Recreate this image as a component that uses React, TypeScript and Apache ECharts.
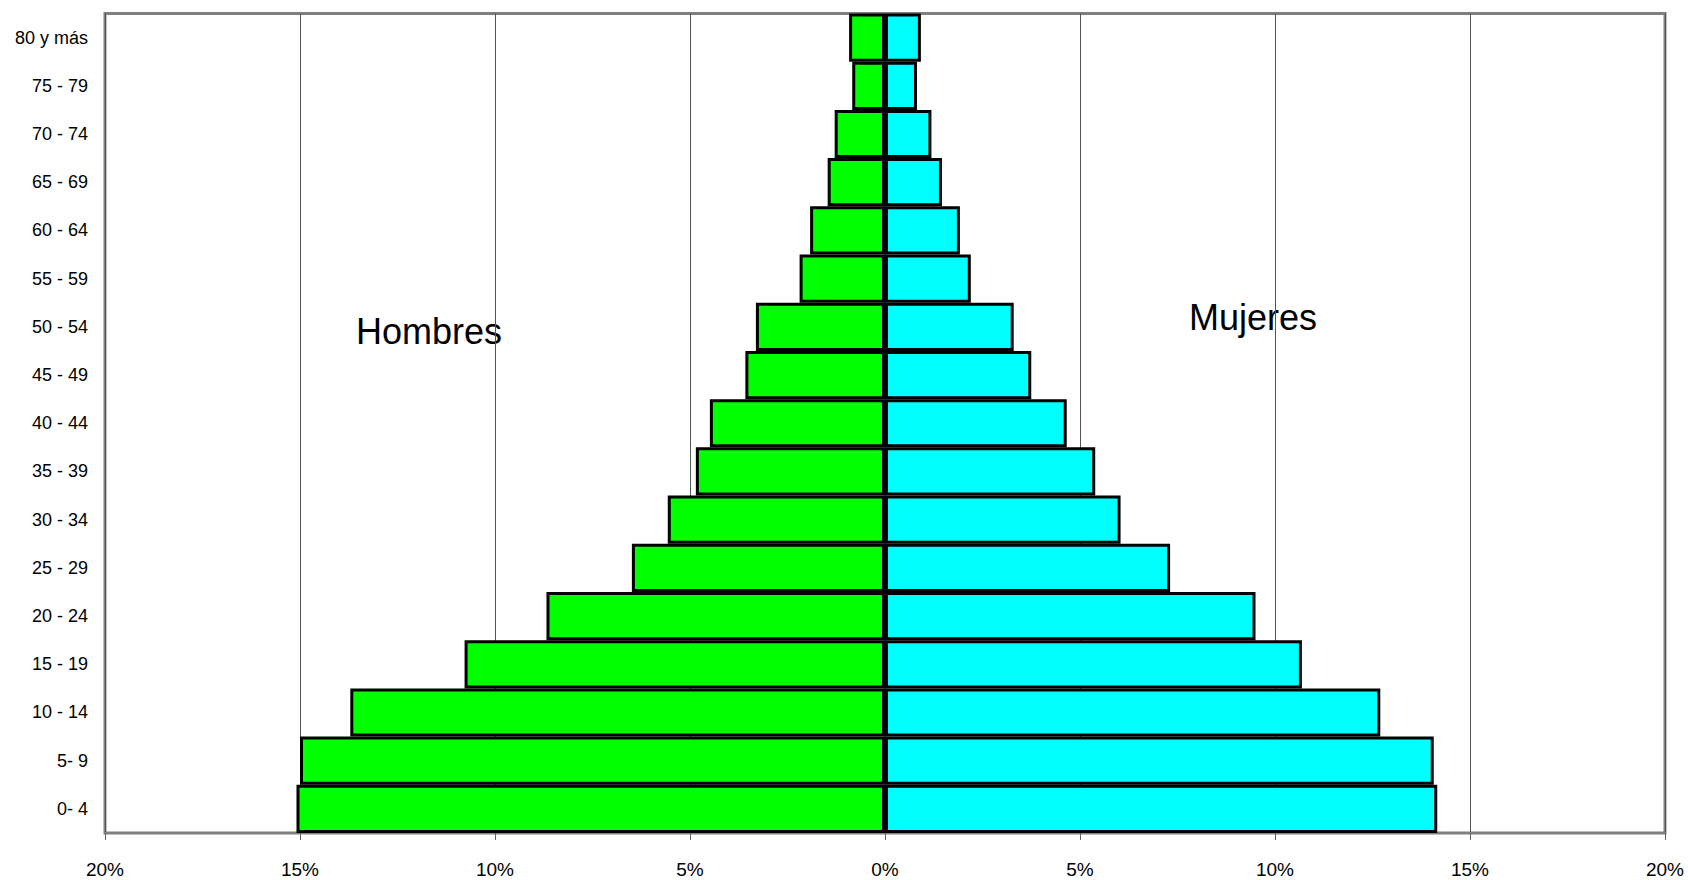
import React, { useEffect, useRef } from "react";
import * as echarts from "echarts";

const categories = [
  "0- 4", "5- 9", "10 - 14", "15 - 19", "20 - 24", "25 - 29", "30 - 34", "35 - 39",
  "40 - 44", "45 - 49", "50 - 54", "55 - 59", "60 - 64", "65 - 69", "70 - 74", "75 - 79", "80 y más",
];
const hombres = [15.09, 15.0, 13.71, 10.78, 8.68, 6.49, 5.57, 4.85, 4.49, 3.58, 3.31, 2.19, 1.92, 1.47, 1.29, 0.84, 0.92];
const mujeres = [14.16, 14.07, 12.7, 10.69, 9.5, 7.31, 6.04, 5.39, 4.66, 3.75, 3.3, 2.2, 1.92, 1.46, 1.19, 0.82, 0.92];
const sideLabels = ["Hombres", "Mujeres"];

const FONT = "'Liberation Sans', Arial, sans-serif";

export default function App() {
  const ref = useRef<HTMLDivElement>(null);
  useEffect(() => {
    if (!ref.current) return;
    const chart = echarts.init(ref.current, null, { renderer: "svg" });
    chart.setOption({
      animation: false,
      backgroundColor: "#ffffff",
      grid: {
        left: 105,
        right: 23,
        top: 13.5,
        bottom: 47,
        show: true,
        borderColor: "#808080",
        borderWidth: 3,
      },
      xAxis: {
        type: "value",
        min: -20,
        max: 20,
        interval: 5,
        axisLabel: {
          formatter: (v: number) => Math.abs(v) + "%",
          color: "#000",
          fontSize: 19,
          fontFamily: FONT,
          margin: 27,
        },
        axisLine: { show: true, lineStyle: { color: "#808080", width: 2 } },
        axisTick: { show: true, length: 7, lineStyle: { color: "#606060", width: 1 } },
        splitLine: { show: true, lineStyle: { color: "#555555", width: 1 } },
      },
      yAxis: {
        type: "category",
        data: categories,
        axisLabel: { color: "#000", fontSize: 18, fontFamily: FONT, margin: 17 },
        axisLine: { show: false },
        axisTick: { show: false },
        splitLine: { show: false },
      },
      graphic: [
        {
          type: "text",
          left: 356,
          top: 313,
          style: { text: sideLabels[0], font: `36px ${FONT}`, fill: "#000" },
        },
        {
          type: "text",
          left: 1189,
          top: 299,
          style: { text: sideLabels[1], font: `36px ${FONT}`, fill: "#000" },
        },
      ],
      series: [
        {
          name: "Hombres",
          type: "bar",
          data: hombres.map((v) => -v),
          barCategoryGap: "0%",
          barGap: "-100%",
          itemStyle: { color: "#00FF00", borderColor: "#000", borderWidth: 3 },
        },
        {
          name: "Mujeres",
          type: "bar",
          data: mujeres,
          barCategoryGap: "0%",
          barGap: "-100%",
          itemStyle: { color: "#00FFFF", borderColor: "#000", borderWidth: 3 },
        },
      ],
    });
    return () => chart.dispose();
  }, []);
  return (
    <div
      ref={ref}
      style={{ position: "fixed", left: 0, top: 0, width: 1688, height: 880 }}
    />
  );
}
